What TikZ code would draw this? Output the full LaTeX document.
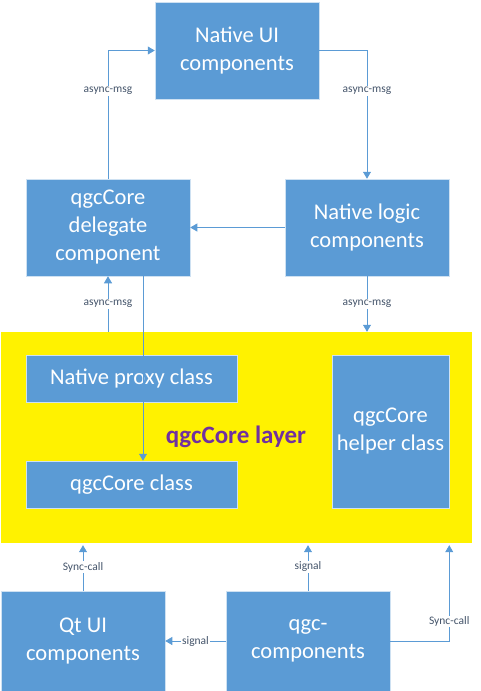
\documentclass[tikz,border=0pt]{standalone}
\usepackage{fontspec}
\setmainfont{Carlito}
\usetikzlibrary{arrows.meta}
\definecolor{boxblue}{HTML}{5B9BD5}
\definecolor{lbltext}{HTML}{44546A}
\definecolor{layerpurple}{HTML}{7030A0}
\begin{document}
\begin{tikzpicture}[x=1pt,y=-1pt,
    comp/.style={draw=white!70!boxblue,line width=0.5pt,fill=boxblue,text=white,align=center,
      inner sep=0pt,font=\fontsize{22.5}{28}\selectfont},
    lbl/.style={fill=white,text=lbltext,inner sep=1pt,font=\fontsize{11.5}{13}\selectfont},
    arr/.style={color=boxblue,line width=0.7pt,-{Triangle[length=7pt,width=8pt]}}]
    \useasboundingbox (0,0) rectangle (480,691);

    % qgcCore layer
    \node[fill=yellow,inner sep=0pt,minimum width=471pt,minimum height=211pt] (layer) at (236.5,437.5) {};
    \node[text=layerpurple,font=\bfseries\fontsize{25}{28}\selectfont] (layertext) at (236,437) {qgcCore layer};

    \node[comp,minimum width=164pt,minimum height=97pt] (ui) at (237,50.5) {Native UI\\components};
    \node[comp,minimum width=164pt,minimum height=97pt] (deleg) at (108,227.5) {qgcCore\\delegate\\component};
    \node[comp,minimum width=164pt,minimum height=97pt] (logic) at (367,227.5) {Native logic\\components};
    \node[comp,minimum width=211pt,minimum height=47pt] (proxy) at (131.5,378.5) {Native proxy class};
    \node[comp,minimum width=211pt,minimum height=47pt] (core) at (131.5,484.5) {qgcCore class};
    \node[comp,minimum width=117pt,minimum height=153pt] (helper) at (390.5,431.5) {qgcCore\\helper class};
    \node[comp,minimum width=164pt,minimum height=100pt] (qtui) at (83,641) {Qt UI\\components};
    \node[comp,minimum width=164pt,minimum height=100pt] (qgc) at (308,641) {qgc-\\components};

    \draw[arr] (deleg.north) |- (ui.west) node[lbl,pos=0.342] {async-msg};
    \draw[arr] (ui.east) -| (logic.north) node[lbl,pos=0.658] {async-msg};
    \path[arr] (logic) edge (deleg);
    \draw[arr] (deleg.south |- layer.north) -- (deleg.south) node[lbl,midway] {async-msg};
    \draw[arr] (logic.south) -- (logic.south |- layer.north) node[lbl,midway] {async-msg};
    \draw[arr] ([xshift=35pt]deleg.south) -- ([xshift=35pt]deleg.south |- core.north);

    \draw[arr,shorten >=2pt] (qtui.north) -- (qtui.north |- layer.south) node[lbl,midway] {Sync-call};
    \draw[arr,shorten >=2pt] (qgc.north) -- (qgc.north |- layer.south) node[lbl,midway] {signal};
    \draw[arr,shorten >=2pt] (qgc.east) -| (helper.east |- layer.south) node[lbl,pos=0.6] {Sync-call};
    \draw[arr] (qgc.west) -- (qtui.east) node[lbl,midway] {signal};
\end{tikzpicture}
\end{document}
